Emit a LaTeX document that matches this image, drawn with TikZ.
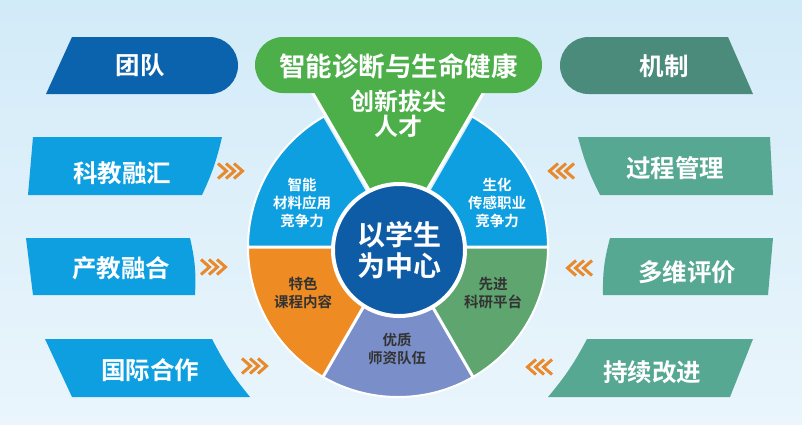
\documentclass[tikz,border=0pt]{standalone}
\usepackage{fontspec}
\newfontfamily\cjk{Noto Sans CJK SC}[BoldFont={Noto Sans CJK SC Bold}]
\definecolor{bgtop}{HTML}{D2EBF8}
\definecolor{bgbot}{HTML}{EAF5FC}
\definecolor{teamblue}{HTML}{0B62AD}
\definecolor{mechteal}{HTML}{4B8B7B}
\definecolor{lblue}{HTML}{0E9FE1}
\definecolor{rteal}{HTML}{56A893}
\definecolor{sorange}{HTML}{EE8B22}
\definecolor{spurple}{HTML}{7A8FC9}
\definecolor{sgreen}{HTML}{5EA56F}
\definecolor{tgreen}{HTML}{4CAF4A}
\definecolor{cblue}{HTML}{0E5BA6}
\definecolor{chevor}{HTML}{E8892C}
\definecolor{darktxt}{HTML}{333333}
\tikzset{
  boxtxt/.style={text=white,font={\cjk\bfseries\fontsize{24.5}{28}\selectfont}},
  sectw/.style={text=white,align=center,font={\cjk\bfseries\fontsize{14.5}{18}\selectfont}},
  sectd/.style={text=darktxt,align=center,font={\cjk\bfseries\fontsize{14.5}{18}\selectfont}},
  chev/.style={draw=chevor,line width=3pt,line join=miter},
  sep/.style={draw=white,line width=3pt},
}
\newcommand\chevR[2]{\foreach \i in {0,1,2}{\draw[chev] ({#1+\i*8},{#2-7.5}) -- ({#1+\i*8+8.5},{#2}) -- ({#1+\i*8},{#2+7.5});}}
\newcommand\chevL[2]{\foreach \i in {0,1,2}{\draw[chev] ({#1-\i*8},{#2-7.5}) -- ({#1-\i*8-8.5},{#2}) -- ({#1-\i*8},{#2+7.5});}}
\begin{document}
\begin{tikzpicture}[x=1pt,y=-1pt]
\useasboundingbox (0,0) rectangle (802,424);
\shade[top color=bgtop,bottom color=bgbot] (0,0) rectangle (802,424);
% ---- left boxes
\fill[teamblue] (72,37) -- (209.5,37) arc[start angle=-90,end angle=90,radius=28.5] -- (46,94) -- cycle;
\node[boxtxt] (team) at (140,65) {团队};
\fill[lblue] (33,137) -- (222,137) to[bend left=6] (202,195) -- (28,195) -- cycle;
\node[boxtxt] (kjrh) at (122,173) {科教融汇};
\fill[lblue] (26,238) -- (190,238) to[bend left=8] (195,295) -- (33,295) -- cycle;
\node[boxtxt] (cjrh) at (121,268) {产教融合};
\fill[lblue] (45,339) -- (212,339) to[bend right=6] (250,397) -- (72,397) -- cycle;
\node[boxtxt] (gjhz) at (150,370) {国际合作};
% ---- right boxes
\fill[mechteal] (588.5,94) arc[start angle=90,end angle=270,radius=28.5] -- (728,37) -- (753,94) -- cycle;
\node[boxtxt] (mech) at (664,66) {机制};
\fill[rteal] (578,137) -- (770,137) -- (773,195) -- (600,195) to[bend left=6] cycle;
\node[boxtxt] (gcgl) at (675,168) {过程管理};
\fill[rteal] (610,238) -- (773,238) -- (768,295) -- (603,295) to[bend left=8] cycle;
\node[boxtxt] (dwpj) at (687,272) {多维评价};
\fill[rteal] (587,339) -- (753,339) -- (730,397) -- (548,397) to[bend right=6] cycle;
\node[boxtxt] (cxgj) at (652,372) {持续改进};
% ---- chevrons
\chevR{218}{171}
\chevR{201}{267}
\chevR{242}{366}
\chevL{574}{171}
\chevL{592}{268}
\chevL{552}{367}
% ---- wheel
\coordinate (C) at (398,247);
\fill[lblue] (C) -- ++(180:150) arc[start angle=180,end angle=240,radius=150] -- cycle;
\fill[lblue] (C) -- ++(300:150) arc[start angle=300,end angle=360,radius=150] -- cycle;
\fill[sorange] (C) -- ++(120:150) arc[start angle=120,end angle=180,radius=150] -- cycle;
\fill[spurple] (C) -- ++(60:150) arc[start angle=60,end angle=120,radius=150] -- cycle;
\fill[sgreen] (C) -- ++(0:150) arc[start angle=0,end angle=60,radius=150] -- cycle;
\draw[white,line width=2pt] (C) circle[radius=150];
\draw[sep] (C) -- ++(0:151) (C) -- ++(60:151) (C) -- ++(120:151) (C) -- ++(180:151);
% ---- top green triangle and banner
\coordinate (apex) at (398,240);
\coordinate (tl) at (311,90);
\coordinate (tr) at (485,90);
\fill[tgreen] (apex) -- (tl) -- (tr) -- cycle;
\draw[sep] (tl) -- (apex) -- (tr);
\fill[tgreen] (283,37) -- (514,37) arc[start angle=-90,end angle=90,radius=28] -- (283,93) arc[start angle=90,end angle=270,radius=28] -- cycle;
\node[text=white,font={\cjk\bfseries\fontsize{26.5}{28}\selectfont}] (title) at (398.5,66) {智能诊断与生命健康};
\node[text=white,align=center,font={\cjk\bfseries\fontsize{24}{25}\selectfont}] (talent) at (398,114) {创新拔尖\\人才};
% ---- centre
\draw[white,line width=4pt,fill=cblue] (399,250) circle[radius=66];
\node[text=white,align=center,font={\cjk\bfseries\fontsize{28}{31}\selectfont}] (core) at (399,250) {以学生\\为中心};
% ---- sector texts
\node[sectw] (s1) at (302,203) {智能\\材料应用\\竞争力};
\node[sectw] (s2) at (497,203) {生化\\传感职业\\竞争力};
\node[sectd] (s3) at (303,293) {特色\\课程内容};
\node[sectd] (s4) at (493,293) {先进\\科研平台};
\node[sectd] (s5) at (397,349) {优质\\师资队伍};
\end{tikzpicture}
\end{document}
